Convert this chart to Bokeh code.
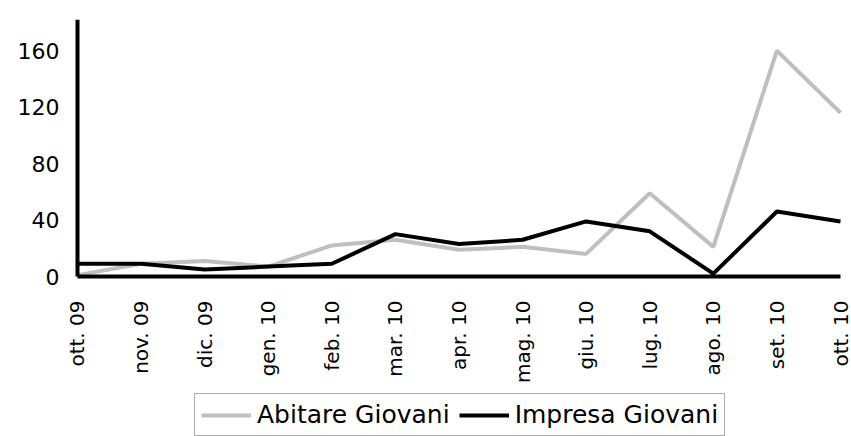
import math
from bokeh.plotting import figure
from bokeh.models import Range1d, FixedTicker, Legend, LegendItem, ColumnDataSource
from bokeh.core.properties import value
from bokeh.embed import file_html
from bokeh.resources import INLINE

months = ["ott. 09", "nov. 09", "dic. 09", "gen. 10", "feb. 10", "mar. 10", "apr. 10",
          "mag. 10", "giu. 10", "lug. 10", "ago. 10", "set. 10", "ott. 10"]
abitare_giovani = [1, 9, 11, 7, 22, 26, 19, 21, 16, 59, 21, 160, 116]
impresa_giovani = [9, 9, 5, 7, 9, 30, 23, 26, 39, 32, 2, 46, 39]
y_ticks = [0, 40, 80, 120, 160]

xs = list(range(len(months)))
Y_MAX = 182
Y_MIN = -113.3  # room below the axis for the category labels and legend
X_MIN = -0.1887
X_MAX = 12.173

p = figure(frame_width=786, frame_height=417, output_backend="svg", toolbar_location=None,
           x_range=Range1d(X_MIN, X_MAX), y_range=Range1d(Y_MIN, Y_MAX),
           min_border_left=65, min_border_right=0, min_border_top=19, min_border_bottom=0)
p.outline_line_color = None
p.xgrid.visible = False
p.ygrid.visible = False
p.xaxis.visible = False

FONT = "DejaVu Sans"

r1 = p.line(xs, abitare_giovani, line_color="#BFBFBF", line_width=4)
r2 = p.line(xs, impresa_giovani, line_color="#000000", line_width=4)

# axis lines: category axis at y = 0, value axis at the first category
p.line([xs[0], xs[-1]], [0, 0], line_color="#000000", line_width=4)
p.line([xs[0], xs[0]], [0, Y_MAX], line_color="#000000", line_width=4)

# category labels below the axis
lab_src = ColumnDataSource(dict(x=xs, y=[0] * len(xs), t=months))
p.text(x="x", y="y", text="t", source=lab_src, angle=math.pi / 2,
       text_align="right", text_baseline="middle", y_offset=24,
       text_font=value(FONT), text_font_size="20px", text_color="#000000")

p.yaxis.ticker = FixedTicker(ticks=y_ticks)
p.yaxis.bounds = (0, Y_MAX)
p.yaxis.major_label_text_font = FONT
p.yaxis.major_label_text_font_size = "22px"
p.yaxis.major_label_text_color = "#000000"
p.yaxis.major_tick_line_color = None
p.yaxis.minor_tick_line_color = None
p.yaxis.major_tick_out = 0
p.yaxis.major_tick_in = 0
p.yaxis.major_label_standoff = 6
p.yaxis.axis_line_color = None

legend = Legend(items=[LegendItem(label="Abitare Giovani", renderers=[r1]),
                       LegendItem(label="Impresa Giovani", renderers=[r2])],
                orientation="horizontal", location=(129, 0))
legend.label_text_font = FONT
legend.label_text_font_size = "25px"
legend.label_text_color = "#000000"
legend.glyph_width = 50
legend.label_standoff = 6
legend.spacing = 9
legend.padding = 6
legend.margin = 0
legend.border_line_color = "#595959"
legend.border_line_width = 1
legend.background_fill_color = "white"
p.add_layout(legend, "center")

open("out.html", "w").write(file_html(p, INLINE))
